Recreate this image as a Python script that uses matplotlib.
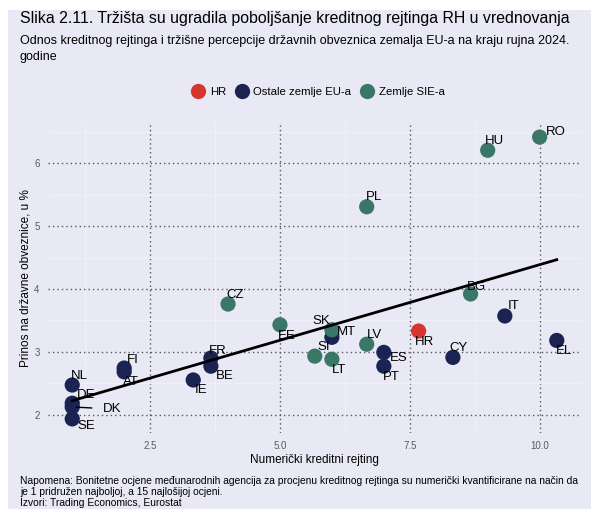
import matplotlib
matplotlib.use("Agg")
import matplotlib.pyplot as plt
import numpy as np
from matplotlib.lines import Line2D
from matplotlib.ticker import MultipleLocator

plt.rcParams["font.family"] = ["Liberation Sans", "DejaVu Sans"]

# data
countries = ["NL", "DE", "DK", "SE", "FI", "AT", "FR", "BE", "IE", "CZ", "EE", "SK", "MT",
             "SI", "LT", "LV", "ES", "PT", "HR", "CY", "BG", "IT", "EL", "PL", "HU", "RO"]
rating = [1, 1, 1, 1, 2, 2, 3.67, 3.67, 3.33, 4, 5, 6, 6,
          5.67, 6, 6.67, 7, 7, 7.67, 8.33, 8.67, 9.33, 10.33, 6.67, 9, 10]
yields = [2.47, 2.18, 2.12, 1.93, 2.74, 2.68, 2.90, 2.77, 2.55, 3.76, 3.43, 3.35, 3.23,
          2.93, 2.88, 3.12, 2.99, 2.77, 3.33, 2.91, 3.92, 3.57, 3.18, 5.31, 6.21, 6.42]
group = ["EU", "EU", "EU", "EU", "EU", "EU", "EU", "EU", "EU", "SIE", "SIE", "SIE", "EU",
         "SIE", "SIE", "SIE", "EU", "EU", "HR", "EU", "SIE", "EU", "EU", "SIE", "SIE", "SIE"]

groups = ["HR", "EU", "SIE"]
group_names = {"HR": "HR", "EU": "Ostale zemlje EU-a", "SIE": "Zemlje SIE-a"}
colors = {"HR": "#D7362F", "EU": "#1B2353", "SIE": "#3A7767"}

# label offsets in pixels (dx, dy up)
label_offsets = {
    "NL": (7, 9), "DE": (14, 8), "DK": (40, -2), "SE": (14, -7), "FI": (9, 8), "AT": (7, -10),
    "FR": (7, 7), "BE": (14, -10), "IE": (8, -10), "CZ": (7, 9), "EE": (7, -11), "SK": (-11, 9),
    "MT": (15, 5), "SI": (9, 9), "LT": (7, -11), "LV": (8, 9), "ES": (15, -6), "PT": (7, -11),
    "HR": (6, -11), "CY": (6, 9), "BG": (6, 7), "IT": (9, 10), "EL": (7, -11), "PL": (7, 10),
    "HU": (7, 9), "RO": (16, 5),
}

bg = "#E8E9F4"
fig = plt.figure(figsize=(5.91, 5.09), dpi=100)
fig.patch.set_facecolor("white")
fig.patches.append(plt.Rectangle((8 / 591, 0), 1, 1 - 10 / 509, transform=fig.transFigure,
                                 facecolor=bg, edgecolor="none", zorder=-5))

ax = fig.add_axes([48 / 591, 1 - 433 / 509, 533 / 591, 310 / 509])
ax.set_facecolor(bg)
for s in ax.spines.values():
    s.set_visible(False)

x = np.array(rating)
y = np.array(yields)
xr = x.max() - x.min()
yr = y.max() - y.min()
ax.set_xlim(x.min() - 0.05 * xr, x.max() + 0.05 * xr)
ax.set_ylim(y.min() - 0.05 * yr, y.max() + 0.05 * yr)

ax.xaxis.set_major_locator(MultipleLocator(2.5))
ax.xaxis.set_minor_locator(MultipleLocator(1.25))
ax.yaxis.set_major_locator(MultipleLocator(1))
ax.yaxis.set_minor_locator(MultipleLocator(0.5))
ax.xaxis.set_major_formatter(plt.FuncFormatter(lambda v, p: f"{v:.1f}"))
ax.yaxis.set_major_formatter(plt.FuncFormatter(lambda v, p: f"{v:.0f}"))
ax.grid(which="major", color="#555555", linestyle=(0, (1, 2.2)), linewidth=1.0)
ax.grid(which="minor", color="#F1F2F9", linestyle="-", linewidth=0.6)
ax.tick_params(which="both", length=0, labelsize=7, labelcolor="#5a5a5a", pad=6)
ax.set_axisbelow(True)

ax.set_xlabel("Numerički kreditni rejting", fontsize=8.5, labelpad=2)
ax.set_ylabel("Prinos na državne obveznice, u %", fontsize=8.5, labelpad=2)

# points, drawn by group
for g in ["EU", "SIE", "HR"]:
    idx = [i for i, gg in enumerate(group) if gg == g]
    ax.scatter(x[idx], y[idx], s=120, color=colors[g], edgecolors="none", zorder=3)

# labels
for i, c in enumerate(countries):
    dx, dy = label_offsets[c]
    if c == "DK":
        ax.annotate(c, (x[i], y[i]), xytext=(dx * 0.72, dy * 0.72), textcoords="offset points",
                    ha="center", va="center", fontsize=9.5, zorder=4,
                    arrowprops=dict(arrowstyle="-", color="black", lw=1, shrinkA=6, shrinkB=3))
    else:
        ax.annotate(c, (x[i], y[i]), xytext=(dx * 0.72, dy * 0.72), textcoords="offset points",
                    ha="center", va="center", fontsize=9.5, zorder=4)

# linear fit
k, b = np.polyfit(x, y, 1)
xs = np.array([x.min(), x.max()])
ax.plot(xs, k * xs + b, color="black", lw=2, zorder=5)

# titles
fig.text(20 / 591, 1 - 18 / 509, "Slika 2.11. Tržišta su ugradila poboljšanje kreditnog rejtinga RH u vrednovanja",
         fontsize=11.4, va="center", ha="left")
fig.text(20 / 591, 1 - 35 / 509, "Odnos kreditnog rejtinga i tržišne percepcije državnih obveznica zemalja EU-a na kraju rujna 2024.\ngodine",
         fontsize=9, va="top", ha="left", linespacing=1.45)

handles = [Line2D([], [], marker="o", linestyle="none", markersize=11, markerfacecolor=colors[g],
                  markeredgecolor="none", label=group_names[g]) for g in groups]
fig.legend(handles=handles, loc="center", bbox_to_anchor=(317 / 591, 1 - 92 / 509), ncol=3,
           frameon=False, fontsize=8.2, handletextpad=0.2, columnspacing=0.6, handlelength=1.6)

fig.text(20 / 591, 1 - 476 / 509,
         "Napomena: Bonitetne ocjene međunarodnih agencija za procjenu kreditnog rejtinga su numerički kvantificirane na način da\n"
         "je 1 pridružen najboljoj, a 15 najlošijoj ocjeni.\nIzvori: Trading Economics, Eurostat",
         fontsize=7.4, va="top", ha="left", linespacing=1.12)

fig.savefig("out.png", dpi=100)
